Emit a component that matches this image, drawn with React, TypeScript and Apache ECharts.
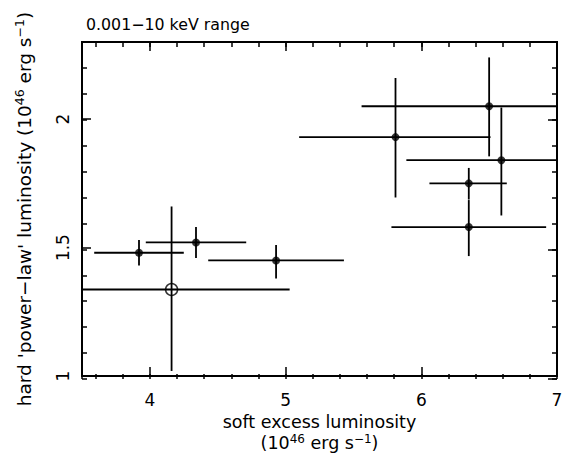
import React, { useEffect, useRef } from "react";
import * as echarts from "echarts";

// soft excess luminosity (1e46 erg/s) and hard power-law luminosity (1e46 erg/s)
const xVals = [3.92, 4.34, 4.93, 4.16, 5.81, 6.5, 6.59, 6.35, 6.35];
const xLow = [3.59, 3.97, 4.43, 3.29, 5.1, 5.56, 5.89, 6.06, 5.78];
const xHigh = [4.25, 4.71, 5.43, 5.03, 6.51, 7.44, 7.28, 6.63, 6.92];
const yVals = [1.48, 1.52, 1.45, 1.337, 1.93, 2.05, 1.84, 1.75, 1.58];
const yLow = [1.43, 1.46, 1.38, 1.02, 1.695, 1.855, 1.625, 1.687, 1.467];
const yHigh = [1.53, 1.58, 1.51, 1.66, 2.16, 2.24, 2.045, 1.81, 1.685];
const openMarker = [false, false, false, true, false, false, false, false, false];

const xTickMin = 3.5;
const xTickMax = 7;
const yTickMin = 1;
const yTickMax = 2.3;

const titleText = "0.001\u221210 keV range";
const FONT = "DejaVu Sans";

export default function App() {
  const ref = useRef<HTMLDivElement>(null);
  useEffect(() => {
    if (!ref.current) return;
    const chart = echarts.init(ref.current, undefined, { renderer: "svg" });
    const errData = xVals.map((x, i) => [x, yVals[i], xLow[i], xHigh[i], yLow[i], yHigh[i]]);
    const filled = xVals.map((x, i) => (openMarker[i] ? null : [x, yVals[i]])).filter(Boolean);
    const open = xVals.map((x, i) => (openMarker[i] ? [x, yVals[i]] : null)).filter(Boolean);

    const richX = {
      n: { fontSize: 17.5, fontFamily: FONT, color: "#000", lineHeight: 21 },
      sup: { fontSize: 12, fontFamily: FONT, color: "#000", verticalAlign: "top", lineHeight: 12 },
    };
    const richY = {
      n: { fontSize: 18.5, fontFamily: FONT, color: "#000", lineHeight: 22 },
      sup: { fontSize: 12.5, fontFamily: FONT, color: "#000", verticalAlign: "top", lineHeight: 12 },
    };
    const tickCommon = (len: number) => ({
      show: true,
      inside: true,
      length: len,
      lineStyle: { color: "#000", width: 1.5 },
    });
    const xBase = (grid: number, pos: string, major: boolean, labels: boolean) => ({
      gridIndex: grid,
      type: "value",
      position: pos,
      min: xTickMin,
      max: xTickMax,
      splitNumber: major ? 4 : 17,
      axisLine: { show: false, onZero: false },
      axisTick: tickCommon(major ? 9 : 5),
      axisLabel: {
        show: labels,
        showMinLabel: false,
        margin: 15,
        fontSize: 17,
        fontFamily: FONT,
        color: "#000",
      },
      splitLine: { show: false },
    });
    const yBase = (grid: number, pos: string, major: boolean, labels: boolean) => ({
      gridIndex: grid,
      type: "value",
      position: pos,
      min: yTickMin,
      max: yTickMax,
      interval: major ? 0.5 : 0.1,
      axisLine: { show: false, onZero: false },
      axisTick: tickCommon(major ? 9 : 5),
      axisLabel: {
        show: labels,
        showMaxLabel: false,
        rotate: 90,
        margin: 11,
        fontSize: 17,
        fontFamily: FONT,
        color: "#000",
      },
      splitLine: { show: false },
    });

    const xMain: any = xBase(0, "bottom", true, true);
    xMain.name =
      "{n|soft excess luminosity}\n{n|(10}{sup|46}{n| erg s}{sup|\u22121}{n|)}";
    xMain.nameLocation = "middle";
    xMain.nameGap = 35;
    xMain.nameTextStyle = { rich: richX, align: "center", verticalAlign: "top" };

    const yMain: any = yBase(0, "left", true, true);
    yMain.name =
      "{n|hard 'power\u2212law' luminosity (10}{sup|46}{n| erg s}{sup|\u22121}{n|)}";
    yMain.nameLocation = "middle";
    yMain.nameGap = 47;
    yMain.nameTextStyle = { rich: richY };

    const rect = { left: 82, right: 11, top: 42, bottom: 78 };

    chart.setOption({
      animation: false,
      backgroundColor: "#fff",
      title: {
        text: titleText,
        left: 81,
        top: 11,
        textStyle: { fontSize: 15.8, fontWeight: "normal", fontFamily: FONT, color: "#000" },
      },
      grid: [
        { ...rect, show: true, borderColor: "#000", borderWidth: 2, backgroundColor: "transparent" },
        { ...rect },
        { ...rect },
        { ...rect },
      ],
      xAxis: [
        xMain,
        xBase(1, "bottom", false, false),
        xBase(2, "top", true, false),
        xBase(3, "top", false, false),
      ],
      yAxis: [
        yMain,
        yBase(1, "left", false, false),
        yBase(2, "right", true, false),
        yBase(3, "right", false, false),
      ],
      series: [
        {
          type: "custom",
          xAxisIndex: 0,
          yAxisIndex: 0,
          clip: true,
          data: errData,
          renderItem: (params: any, api: any) => {
            const x = api.value(0);
            const y = api.value(1);
            const pl = api.coord([api.value(2), y]);
            const pr = api.coord([api.value(3), y]);
            const pb = api.coord([x, api.value(4)]);
            const pt = api.coord([x, api.value(5)]);
            const style = { stroke: "#000", lineWidth: 1.8 };
            return {
              type: "group",
              children: [
                { type: "line", shape: { x1: pl[0], y1: pl[1], x2: pr[0], y2: pr[1] }, style },
                { type: "line", shape: { x1: pb[0], y1: pb[1], x2: pt[0], y2: pt[1] }, style },
              ],
            };
          },
          z: 2,
        },
        {
          type: "scatter",
          xAxisIndex: 0,
          yAxisIndex: 0,
          data: filled,
          symbol: "circle",
          symbolSize: 8,
          itemStyle: { color: "#000" },
          z: 3,
        },
        {
          type: "scatter",
          xAxisIndex: 0,
          yAxisIndex: 0,
          data: open,
          symbol: "circle",
          symbolSize: 12,
          itemStyle: { color: "rgba(0,0,0,0)", borderColor: "#000", borderWidth: 1.5 },
          z: 3,
        },
        ...[1, 2, 3].map((g) => ({ type: "scatter", xAxisIndex: g, yAxisIndex: g, data: [] })),
      ],
    });
    return () => chart.dispose();
  }, []);
  return <div ref={ref} style={{ width: 568, height: 457, position: "absolute", left: 0, top: 0 }} />;
}
